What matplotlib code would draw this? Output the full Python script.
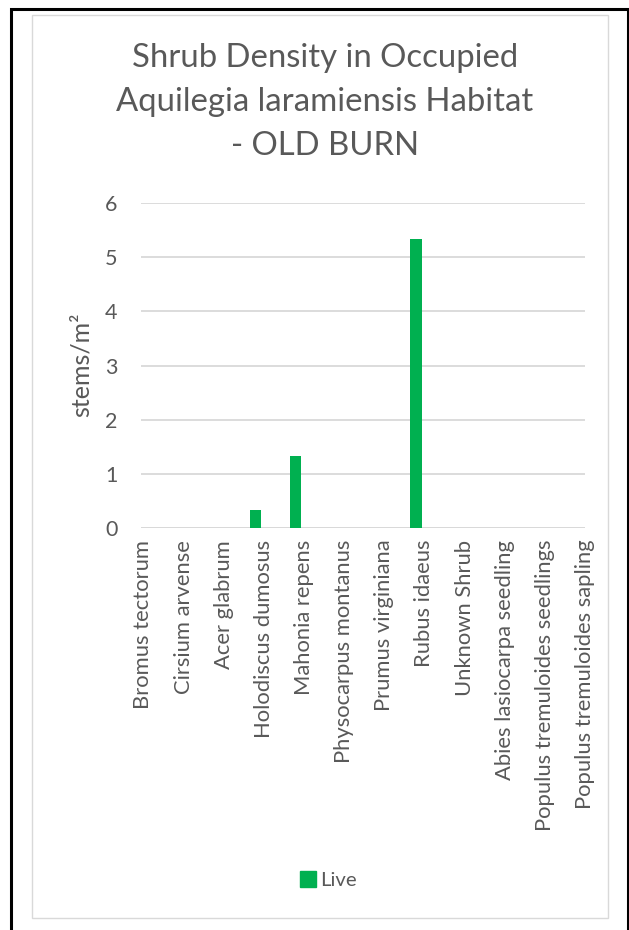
import matplotlib.pyplot as plt
from matplotlib.patches import Rectangle
from matplotlib.lines import Line2D

species = ["Bromus tectorum", "Cirsium arvense", "Acer glabrum", "Holodiscus dumosus",
           "Mahonia repens", "Physocarpus montanus", "Prumus virginiana", "Rubus idaeus",
           "Unknown Shrub", "Abies lasiocarpa seedling", "Populus tremuloides seedlings",
           "Populus tremuloides sapling"]
live = [0, 0, 0, 0.33, 1.33, 0, 0, 5.33, 0, 0, 0, 0]
yticks = [0, 1, 2, 3, 4, 5, 6]

green = "#00B050"
txt = "#595959"
grid = "#D9D9D9"
font = "Lato"

fig = plt.figure(figsize=(6.29, 9.30), dpi=100)

# outer black frame and inner grey chart border
fig.patches.append(Rectangle((11 / 629, -0.01), 617 / 629, 1.0, transform=fig.transFigure,
                             fill=False, edgecolor="black", linewidth=2.2))
fig.patches.append(Rectangle((32 / 629, 1 - 918 / 930), 576 / 629, 903 / 930,
                             transform=fig.transFigure, fill=False, edgecolor=grid, linewidth=1))

ax = fig.add_axes([141 / 629, 1 - 528 / 930, 444 / 629, 325 / 930])
pos = list(range(len(species)))
ax.bar(pos, live, width=0.285, color=green, zorder=3)
ax.set_xlim(0.15, 11.14)
ax.set_ylim(0, 6)
ax.set_yticks(yticks)
ax.set_yticklabels([str(v) for v in yticks], fontsize=15.5, color=txt, family=font)
ax.set_xticks([p + 0.21 for p in pos])
ax.set_xticklabels(species, rotation=90, fontsize=15.8, color=txt, family=font, va="top")
ax.tick_params(axis="both", length=0)
ax.tick_params(axis="y", pad=17)
ax.tick_params(axis="x", pad=8.5)
ax.grid(axis="y", color=grid, linewidth=1.3, zorder=0)
for s in ax.spines.values():
    s.set_visible(False)
ax.axhline(0, color=grid, linewidth=1.3, zorder=2)

fig.text(81 / 629, 1 - 365 / 930, "stems/m²", rotation=90, ha="center", va="center",
         fontsize=18, color=txt, family=font)

title_lines = ["Shrub Density in Occupied", "Aquilegia laramiensis Habitat", "- OLD BURN"]
title_y = [58, 102, 146]
for line, y in zip(title_lines, title_y):
    fig.text(325 / 629, 1 - y / 930, line, ha="center", va="center",
             fontsize=23.7, color=txt, family=font)

handle = Line2D([], [], marker="s", linestyle="none", markersize=11,
                markerfacecolor=green, markeredgecolor=green)
fig.legend([handle], ["Live"], loc="center", bbox_to_anchor=(327 / 629, 1 - 880 / 930),
           frameon=False, prop={"family": font, "size": 14.6}, labelcolor=txt,
           handletextpad=0.1, handlelength=1.0)

fig.savefig("out.png", dpi=100)
